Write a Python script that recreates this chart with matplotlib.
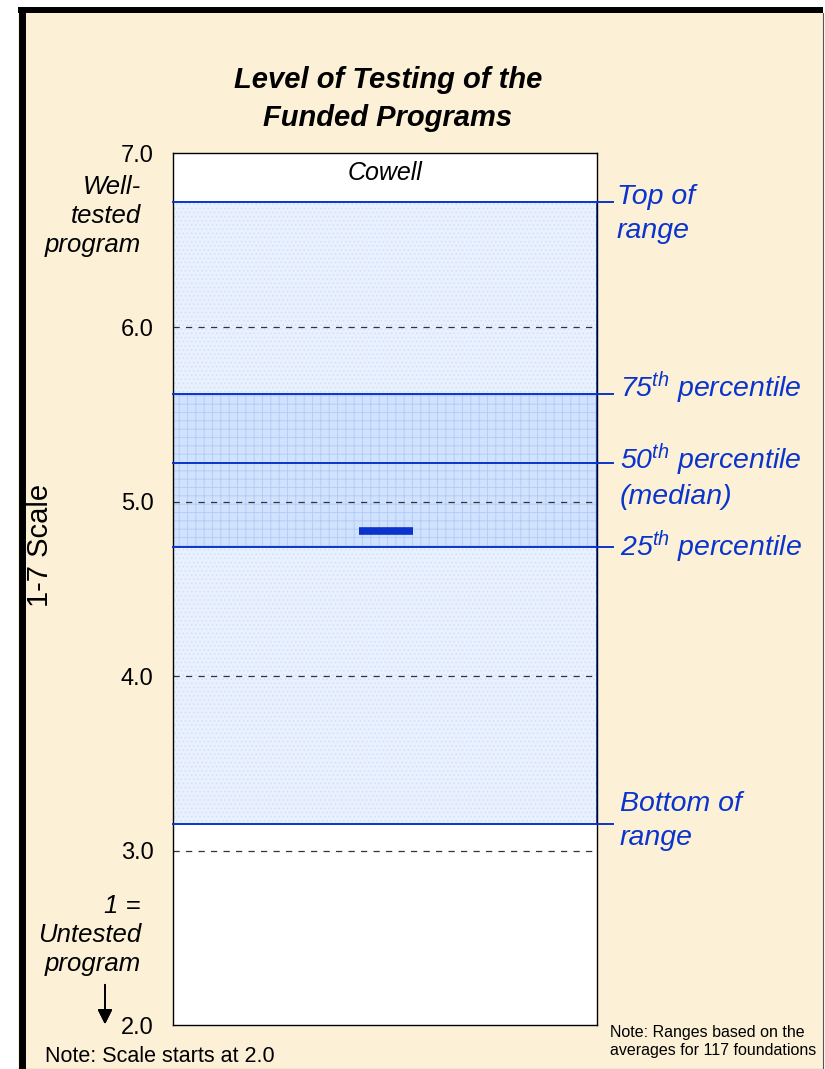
import numpy as np
import matplotlib.pyplot as plt
from matplotlib.patches import Rectangle
from matplotlib.lines import Line2D

plt.rcParams['font.family'] = ['Liberation Sans', 'DejaVu Sans']
plt.rcParams['mathtext.fontset'] = 'custom'
plt.rcParams['mathtext.it'] = 'Liberation Sans:italic'
plt.rcParams['mathtext.rm'] = 'Liberation Sans:italic'
plt.rcParams['hatch.linewidth'] = 0.6

# data (1-7 scale)
range_bottom = 3.15
range_top = 6.72
p25 = 4.74
p50 = 5.22
p75 = 5.62
cowell = 4.83
yticks = [2, 3, 4, 5, 6, 7]
ytick_labels = ['2.0', '3.0', '4.0', '5.0', '6.0', '7.0']
grid_levels = [3, 4, 5, 6]
line_labels = ['Top of\nrange', r'75$^{th}$ percentile', r'50$^{th}$ percentile' + '\n(median)',
               r'25$^{th}$ percentile', 'Bottom of\nrange']
line_values = [range_top, p75, p50, p25, range_bottom]

W, H = 825, 1069
def px(x, y):
    return x / W, 1 - y / H

cream = '#FCF1D7'
blue = '#0A34CC'

fig = plt.figure(figsize=(8.25, 10.69), dpi=100, facecolor='white')

# frame around the chart
fig.add_artist(Rectangle(px(18, 1069), (823 - 18) / W, (1069 - 7) / H, transform=fig.transFigure,
                         facecolor=cream, edgecolor='none', zorder=-10))
fig.add_artist(Line2D([21.5 / W, 21.5 / W], [0, 1 - 7 / H], color='black', lw=5.0, zorder=-5,
                      solid_capstyle='butt'))
fig.add_artist(Line2D([18 / W, 823 / W], [1 - 10 / H, 1 - 10 / H], color='black', lw=4.3, zorder=-5,
                      solid_capstyle='butt'))
fig.add_artist(Line2D([822.5 / W, 822.5 / W], [0, 1 - 13 / H], color='#555555', lw=0.8, zorder=-5))
fig.add_artist(Line2D([18 / W, 823 / W], [0.5 / H, 0.5 / H], color='#555555', lw=0.8, zorder=-5))

ax = fig.add_axes([173 / W, 1 - 1025 / H, 424 / W, 872 / H])
ax.set_facecolor('white')
ax.set_xlim(0, 1)
ax.set_ylim(2, 7)
ax.set_xticks([])
ax.set_yticks(yticks)
ax.set_yticklabels(ytick_labels, fontsize=17)
ax.tick_params(axis='y', length=0, pad=14)
for s in ax.spines.values():
    s.set_linewidth(1.0)
    s.set_color('black')

# shaded ranges
ax.axhspan(range_bottom, range_top, facecolor='#EAF1FE', edgecolor='#CFE0FB', hatch='....', lw=0, zorder=1)
ax.axhspan(p25, p75, facecolor='#D0E2FD', edgecolor='#AFCBF6', hatch='++', lw=0, zorder=1.5)

for g in grid_levels:
    ax.axhline(g, color='#333333', lw=0.9, ls=(0, (5, 5)), zorder=2)

for v in line_values:
    ax.axhline(v, xmin=0, xmax=(613 - 173) / 424, color=blue, lw=1.4, zorder=3, clip_on=False)
ax.vlines(1, range_bottom, range_top, color=blue, lw=2, zorder=3)

ax.hlines(cowell, 0.439, 0.566, color=blue, lw=5.5, zorder=4)
ax.text(0.5, 1 - 20 / 872, 'Cowell', transform=ax.transAxes, ha='center', va='center',
        fontsize=18, style='italic')

# labels on the right
offsets = [(14.4, -8.6), (16.5, 4.3), (16.5, -9.0), (16.5, 0.0), (16.5, 2.5)]
spacings = [1.4, 1.2, 1.31, 1.2, 1.38]
for lab, v, off, ls in zip(line_labels, line_values, offsets, spacings):
    ax.annotate(lab, xy=(1, v), xycoords=('axes fraction', 'data'), xytext=off,
                textcoords='offset points', ha='left', va='center', fontsize=20.5,
                style='italic', color=blue, linespacing=ls, annotation_clip=False)

# title and side texts
fig.text(*px(388, 80), 'Level of Testing of the', ha='center', va='center', fontsize=21,
         weight='bold', style='italic')
fig.text(*px(388, 118), 'Funded Programs', ha='center', va='center', fontsize=21,
         weight='bold', style='italic')
fig.text(*px(40, 545), '1-7 Scale', rotation=90, ha='center', va='center', fontsize=21)
fig.text(*px(141, 216), 'Well-\ntested\nprogram', ha='right', va='center', fontsize=18.5,
         style='italic', multialignment='right', linespacing=1.27)
fig.text(*px(141, 935), '1 =\nUntested\nprogram', ha='right', va='center', fontsize=18.5,
         style='italic', multialignment='right', linespacing=1.27)
fig.add_artist(plt.annotate('', xy=px(105, 1027), xycoords='figure fraction', xytext=px(105, 982),
                            textcoords='figure fraction',
                            arrowprops=dict(arrowstyle='-|>', color='black', lw=1.3,
                                            mutation_scale=22)))
fig.text(*px(45, 1057), 'Note: Scale starts at 2.0', ha='left', va='center', fontsize=15.5)
fig.text(*px(610, 1041), 'Note: Ranges based on the\naverages for 117 foundations', ha='left',
         va='center', fontsize=11.5, linespacing=1.25)

fig.savefig('out.png', dpi=100, facecolor=fig.get_facecolor())
